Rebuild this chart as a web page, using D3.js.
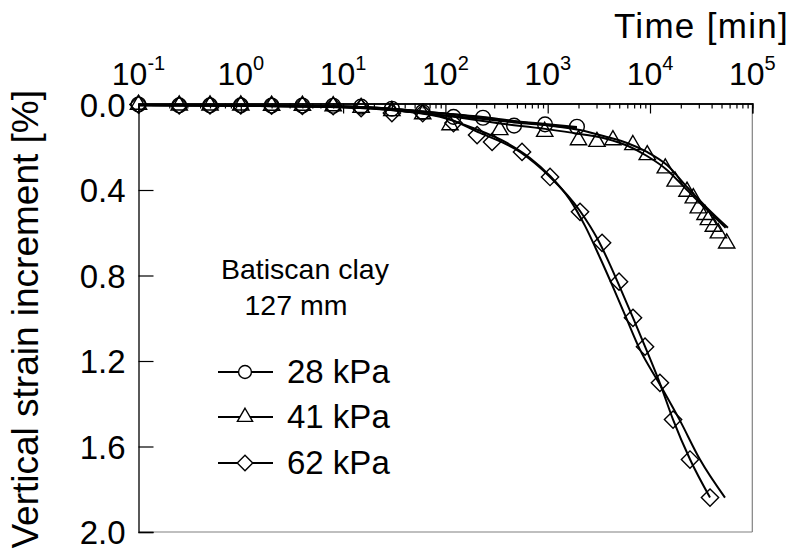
<!DOCTYPE html>
<html>
<head>
<meta charset="utf-8">
<script src="https://cdn.jsdelivr.net/npm/d3@7"></script>
<style>
  html, body { margin: 0; padding: 0; background: #fff; }
  svg { display: block; }
  text { font-family: "Liberation Sans", Arial, sans-serif; fill: #000; }
</style>
</head>
<body>
<svg id="chart" width="798" height="555"></svg>
<script>
// Measured strain increments (%) versus elapsed time (min)
const times28  = [0.1, 0.25, 0.5, 1, 2, 4, 8, 15, 30, 60, 120, 233, 469, 942, 1932];
const strain28 = [0.0, 0.004, 0.004, 0.004, 0.005, 0.005, 0.006, 0.01, 0.02, 0.035, 0.058, 0.062, 0.099, 0.093, 0.104];

const times41  = [0.1, 0.25, 0.5, 1, 2, 4, 8, 15, 30, 60, 111, 340, 935, 2000, 3030, 4340, 6800, 9400,
                  14100, 17600, 23000, 26500, 29650, 34500, 37200, 41600, 46600, 56200];
const strain41 = [0.0, 0.004, 0.004, 0.004, 0.005, 0.005, 0.007, 0.015, 0.03, 0.045, 0.096, 0.119, 0.127, 0.166,
                  0.174, 0.166, 0.189, 0.236, 0.298, 0.36, 0.407, 0.438, 0.485, 0.516, 0.54, 0.571, 0.602, 0.649];

const times62  = [0.1, 0.25, 0.5, 1, 2, 4, 8, 15, 30, 60, 120, 204, 286, 561, 1054, 2070, 3400, 4980,
                  6820, 8940, 12500, 16800, 24600, 38600];
const strain62 = [0.0, 0.004, 0.004, 0.004, 0.005, 0.006, 0.008, 0.017, 0.04, 0.04, 0.087, 0.143, 0.175, 0.222,
                  0.339, 0.502, 0.647, 0.829, 0.998, 1.133, 1.302, 1.474, 1.661, 1.839];

// Two computed curves per load level
const curve28aT = [0.1, 1, 14.6, 88.5, 233, 469, 942, 1932];
const curve28aS = [0.002, 0.004, 0.012, 0.040, 0.058, 0.077, 0.091, 0.105];
const curve28bT = [0.1, 1, 14.6, 88.5, 233, 469, 942, 1932];
const curve28bS = [0.003, 0.006, 0.016, 0.049, 0.068, 0.084, 0.096, 0.110];

const curve41aT = [0.1, 1, 14.6, 88.5, 342, 942, 2070, 3800, 5960, 9350, 14660, 23000, 36100, 57800];
const curve41aS = [0.002, 0.004, 0.012, 0.040, 0.072, 0.096, 0.119, 0.152, 0.180, 0.222, 0.283, 0.386, 0.484, 0.577];
const curve41bT = [0.1, 1, 14.6, 88.5, 342, 942, 2070, 3800, 5960, 9350, 14660, 23000, 36100, 55000];
const curve41bS = [0.003, 0.006, 0.016, 0.049, 0.089, 0.114, 0.138, 0.161, 0.192, 0.241, 0.306, 0.400, 0.493, 0.577];

const curve62aT = [0.1, 1, 10, 30, 88.5, 186, 400, 671, 1054, 1653, 2317, 3246, 4250, 5690, 7980, 12530, 19640, 30800, 54100];
const curve62aS = [0.002, 0.004, 0.008, 0.025, 0.058, 0.110, 0.180, 0.250, 0.334, 0.446, 0.568, 0.717, 0.843, 0.984, 1.147, 1.311, 1.479, 1.661, 1.839];
const curve62bT = [0.1, 1, 14.6, 88.5, 218, 536, 1054, 2070, 3100, 4070, 5210, 6830, 8950, 12530, 16800, 24650, 38600];
const curve62bS = [0.003, 0.006, 0.012, 0.054, 0.133, 0.222, 0.339, 0.498, 0.633, 0.750, 0.867, 0.998, 1.133, 1.306, 1.474, 1.661, 1.839];

const yTicks = [0.0, 0.4, 0.8, 1.2, 1.6, 2.0];
const decadeExponents = [-1, 0, 1, 2, 3, 4, 5];
const legendLabels = ["28 kPa", "41 kPa", "62 kPa"];
const titleLines = ["Batiscan clay", "127 mm"];

const svg = d3.select("#chart");
const x = d3.scaleLog().domain([0.1, 1e5]).range([138.5, 752.3]);
const y = d3.scaleLinear().domain([0, 2]).range([104.5, 532]);

const zip = (ts, ss) => ts.map((t, i) => ({ t, s: ss[i] }));

// plot frame: right and bottom edges in grey
svg.append("line").attr("x1", x(1e5)).attr("x2", x(1e5)).attr("y1", y(0)).attr("y2", y(2))
  .attr("stroke", "#808080").attr("stroke-width", 1.2);
svg.append("line").attr("x1", x(0.1)).attr("x2", x(1e5)).attr("y1", y(2)).attr("y2", y(2))
  .attr("stroke", "#808080").attr("stroke-width", 1.2);

// top time axis with decade and minor ticks
const minor = [];
for (let e = -1; e < 5; e++) for (let m = 2; m <= 9; m++) minor.push(m * Math.pow(10, e));
const majors = decadeExponents.map(e => Math.pow(10, e));

const topAxis = svg.append("g").attr("transform", `translate(0,${y(0) - 1})`);
topAxis.call(d3.axisTop(x).tickValues(majors).tickSize(-10).tickFormat(""));
topAxis.append("g").call(d3.axisTop(x).tickValues(minor).tickSize(-5).tickFormat(""));
topAxis.selectAll("path.domain").attr("stroke", "#000").attr("stroke-width", 1.3);
topAxis.selectAll(".tick line").attr("stroke", "#000").attr("stroke-width", 1.2);

const lbl = svg.append("g");
decadeExponents.forEach(e => {
  const t = lbl.append("text").attr("x", x(Math.pow(10, e))).attr("y", 85)
    .attr("text-anchor", "middle").style("font-size", "32px");
  t.append("tspan").text("10");
  t.append("tspan").attr("dy", -15).style("font-size", "20px").text(String(e));
});
svg.append("text").attr("x", 789).attr("y", 38).attr("text-anchor", "end")
  .style("font-size", "35px").style("letter-spacing", "1.3px").text("Time [min]");

// left strain axis
const leftAxis = svg.append("g").attr("transform", `translate(${x(0.1)},0)`);
leftAxis.call(d3.axisLeft(y).tickValues(yTicks).tickSize(-15).tickPadding(13).tickFormat(d3.format(".1f")));
leftAxis.selectAll("path.domain").attr("stroke", "#000").attr("stroke-width", 1.3);
leftAxis.selectAll(".tick line").attr("stroke", "#000").attr("stroke-width", 1.2);
leftAxis.selectAll(".tick text").style("font-size", "33px")
  .style("font-family", "'Liberation Sans', Arial, sans-serif").attr("dy", "0.36em");

svg.append("text").attr("transform", "translate(38,90) rotate(-90)")
  .attr("text-anchor", "end").style("font-size", "37px").text("Vertical strain increment [%]");

// computed curves
const line = d3.line().x(d => x(d.t)).y(d => y(d.s)).curve(d3.curveMonotoneX);
const curves = [
  zip(curve28aT, curve28aS), zip(curve28bT, curve28bS),
  zip(curve41aT, curve41aS), zip(curve41bT, curve41bS),
  zip(curve62aT, curve62aS), zip(curve62bT, curve62bS)
];
svg.append("g").selectAll("path").data(curves).join("path")
  .attr("d", line).attr("fill", "none").attr("stroke", "#000").attr("stroke-width", 2);

// measured points
const symCircle = d3.symbol().type(d3.symbolCircle).size(170);
const symTri = d3.symbol().type(d3.symbolTriangle).size(115);
const symDia = d3.symbol().type(d3.symbolSquare).size(150);
const series = [
  { pts: zip(times28, strain28), sym: symCircle, rot: 0 },
  { pts: zip(times41, strain41), sym: symTri, rot: 0 },
  { pts: zip(times62, strain62), sym: symDia, rot: 45 }
];
series.forEach(s => {
  svg.append("g").selectAll("path").data(s.pts).join("path")
    .attr("d", s.sym())
    .attr("transform", d => `translate(${x(d.t)},${y(d.s)}) rotate(${s.rot})`)
    .attr("fill", "none").attr("stroke", "#000").attr("stroke-width", 1.4);
});

// legend
const leg = svg.append("g");
leg.append("text").attr("x", 221).attr("y", 279).style("font-size", "28.5px").text(titleLines[0]);
leg.append("text").attr("x", 296).attr("y", 315).attr("text-anchor", "middle").style("font-size", "28.5px").text(titleLines[1]);
const legY = [372, 417, 463];
series.forEach((s, i) => {
  leg.append("line").attr("x1", 218).attr("x2", 273).attr("y1", legY[i]).attr("y2", legY[i])
    .attr("stroke", "#000").attr("stroke-width", 2);
  leg.append("path").attr("d", s.sym.size(i === 2 ? 120 : (i === 1 ? 100 : 130))())
    .attr("transform", `translate(245,${legY[i]}) rotate(${s.rot})`)
    .attr("fill", "#fff").attr("stroke", "#000").attr("stroke-width", 1.4);
  leg.append("text").attr("x", 287).attr("y", legY[i] + 11).style("font-size", "33px").text(legendLabels[i]);
});
</script>
</body>
</html>
